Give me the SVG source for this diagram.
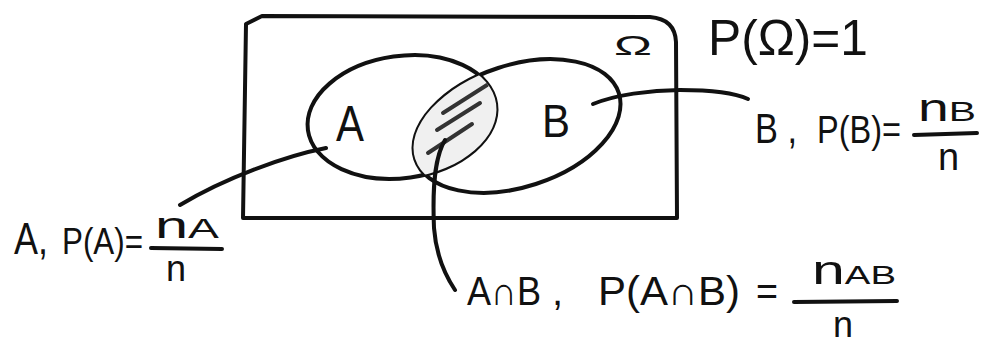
<svg xmlns="http://www.w3.org/2000/svg" width="982" height="347" viewBox="0 0 982 347">
<style>
.ln{fill:none;stroke:#111;stroke-width:4;stroke-linecap:round;stroke-linejoin:round}
.hatch{fill:none;stroke:#333;stroke-width:4;stroke-linecap:round}
.t{font-family:"Liberation Sans",Arial,sans-serif;fill:#111}
</style>
<defs>
<clipPath id="clipA"><ellipse cx="402" cy="117" rx="95" ry="61" transform="rotate(-8 402 117)"/></clipPath>
</defs>
<rect width="982" height="347" fill="#fff"/>
<g id="omega-box">
<path class="ln" d="M246,24 L262,16 L650,17 Q675,19 676,42 L677,218 L243,218 Z"/>
<text class="t" x="614" y="55" font-size="28" textLength="38" lengthAdjust="spacingAndGlyphs">Ω</text>
</g>
<g id="set-A">
<ellipse class="ln" cx="402" cy="117" rx="95" ry="61" transform="rotate(-8 402 117)"/>
<text class="t" x="336" y="141" font-size="50" textLength="28" lengthAdjust="spacingAndGlyphs">A</text>
</g>
<g id="set-B">
<ellipse class="ln" cx="517" cy="126" rx="107" ry="61" transform="rotate(-18 517 126)"/>
<text class="t" x="542" y="137" font-size="46" textLength="28" lengthAdjust="spacingAndGlyphs">B</text>
</g>
<g id="intersection" clip-path="url(#clipA)">
<ellipse cx="517" cy="126" rx="107" ry="61" transform="rotate(-18 517 126)" fill="#f0f0f0"/>
<path class="hatch" d="M443,113 L487,85 M437,130 L480,103 M428,153 L472,124"/>
</g>
<g id="connectors">
<path class="ln" d="M326,148 C285,156 225,178 180,205"/>
<path class="ln" d="M593,104 C615,95 650,90 680,90 C710,90 735,93 748,99"/>
<path class="ln" d="M445,140 C436,155 432,180 434,228 C436,255 445,275 455,290"/>
</g>
<g id="label-omega">
<text class="t" x="708" y="55" font-size="50" textLength="160" lengthAdjust="spacingAndGlyphs">P(Ω)=1</text>
</g>
<g id="label-A">
<text class="t" x="14" y="254" font-size="44" textLength="34" lengthAdjust="spacingAndGlyphs">A,</text>
<text class="t" x="62" y="254" font-size="36" textLength="81" lengthAdjust="spacingAndGlyphs">P(A)=</text>
<text class="t" x="155" y="238" font-size="36" textLength="64" lengthAdjust="spacingAndGlyphs">n<tspan font-size="28">A</tspan></text>
<path class="ln" d="M151,248 L222,249"/>
<text class="t" x="166" y="281" font-size="36">n</text>
</g>
<g id="label-B">
<text class="t" x="755" y="143" font-size="42" textLength="42" lengthAdjust="spacingAndGlyphs">B ,</text>
<text class="t" x="817" y="143" font-size="38" textLength="84" lengthAdjust="spacingAndGlyphs">P(B)=</text>
<text class="t" x="918" y="121" font-size="38" textLength="58" lengthAdjust="spacingAndGlyphs">n<tspan font-size="28">B</tspan></text>
<path class="ln" d="M914,135 L977,133"/>
<text class="t" x="938" y="170" font-size="38">n</text>
</g>
<g id="label-AB">
<text class="t" x="467" y="305" font-size="40" textLength="74" lengthAdjust="spacingAndGlyphs">A∩B</text>
<text class="t" x="552" y="305" font-size="40">,</text>
<text class="t" x="598" y="305" font-size="40" textLength="142" lengthAdjust="spacingAndGlyphs">P(A∩B)</text>
<text class="t" x="756" y="305" font-size="40" textLength="22" lengthAdjust="spacingAndGlyphs">=</text>
<text class="t" x="812" y="284" font-size="40" textLength="84" lengthAdjust="spacingAndGlyphs">n<tspan font-size="26">AB</tspan></text>
<path class="ln" d="M794,302 L897,301"/>
<text class="t" x="833" y="337" font-size="36">n</text>
</g>
</svg>
